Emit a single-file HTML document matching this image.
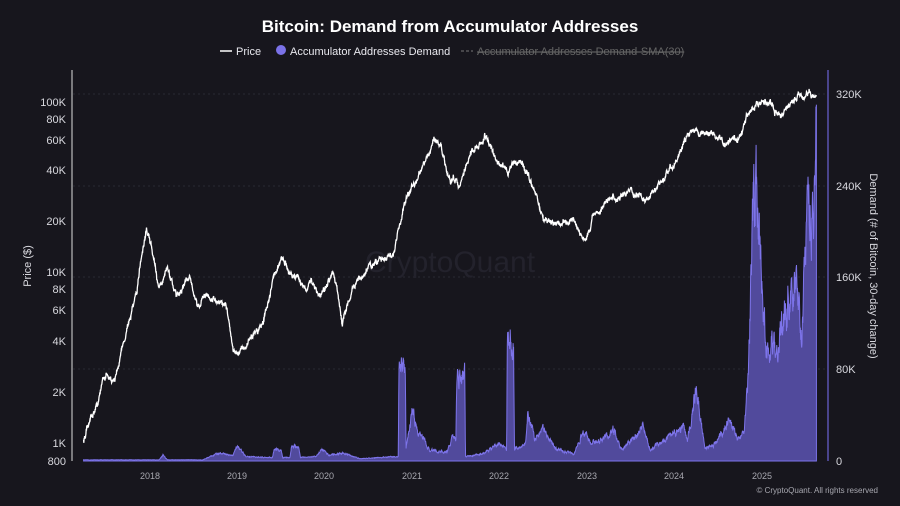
<!DOCTYPE html>
<html><head><meta charset="utf-8"><style>
html,body{margin:0;padding:0;background:#17161d;}
svg{display:block;font-family:"Liberation Sans",sans-serif;}
</style></head><body>
<svg id="c" width="900" height="506" viewBox="0 0 900 506">
<rect width="900" height="506" fill="#17161d"/>
<text x="450" y="32" fill="#ffffff" font-size="17" font-weight="bold" text-anchor="middle">Bitcoin: Demand from Accumulator Addresses</text>
<line x1="220" y1="51" x2="232" y2="51" stroke="#fff" stroke-width="1.5"/>
<text x="236" y="55" fill="#e8e8ee" font-size="11">Price</text>
<circle cx="281" cy="50" r="5" fill="#7b72e8"/>
<text x="290" y="55" fill="#e8e8ee" font-size="11">Accumulator Addresses Demand</text>
<line x1="461" y1="51" x2="473" y2="51" stroke="#777" stroke-width="1" stroke-dasharray="3,2"/>
<text x="477" y="55" fill="#666" font-size="11" text-decoration="line-through">Accumulator Addresses Demand-SMA(30)</text>
<g stroke="#2a2933" stroke-width="1" stroke-dasharray="2,3">
<line x1="73" y1="94" x2="828" y2="94"/><line x1="73" y1="186" x2="828" y2="186"/>
<line x1="73" y1="277" x2="828" y2="277"/><line x1="73" y1="369" x2="828" y2="369"/>
</g>
<text x="450" y="272" fill="#23222c" font-size="30" text-anchor="middle">CryptoQuant</text>
<g id="plot"></g>
<line x1="72" y1="70" x2="72" y2="461" stroke="#ddd" stroke-width="1"/>
<line x1="828" y1="70" x2="828" y2="461" stroke="#6b63d6" stroke-width="1.2"/>
<g fill="#d8d8de" font-size="11" text-anchor="end">
<text x="66" y="106">100K</text><text x="66" y="123">80K</text><text x="66" y="144">60K</text>
<text x="66" y="174">40K</text><text x="66" y="225">20K</text><text x="66" y="276">10K</text>
<text x="66" y="293">8K</text><text x="66" y="314">6K</text><text x="66" y="345">4K</text>
<text x="66" y="396">2K</text><text x="66" y="447">1K</text><text x="66" y="465">800</text>
</g>
<g fill="#d8d8de" font-size="11">
<text x="836" y="98">320K</text><text x="836" y="190">240K</text><text x="836" y="281">160K</text>
<text x="836" y="373">80K</text><text x="836" y="465">0</text>
</g>
<text transform="translate(31,266) rotate(-90)" fill="#d8d8de" font-size="11" text-anchor="middle">Price ($)</text>
<text transform="translate(870,266) rotate(90)" fill="#d8d8de" font-size="11" text-anchor="middle">Demand (# of Bitcoin, 30-day change)</text>
<g fill="#a8a8b0" font-size="9" text-anchor="middle">
<text x="150" y="479">2018</text><text x="237" y="479">2019</text><text x="324" y="479">2020</text>
<text x="412" y="479">2021</text><text x="499" y="479">2022</text><text x="587" y="479">2023</text>
<text x="674" y="479">2024</text><text x="762" y="479">2025</text>
</g>
<text x="878" y="493" fill="#a8a8b0" font-size="8" text-anchor="end">© CryptoQuant. All rights reserved</text>
</svg>
<script>
var X=function(t){return 150+(t-2018)*87.4;};
var YP=function(p){return 443-170*Math.log10(p/1000);};
var YD=function(k){return 461-k*1.146;};
var s=12345;function r(){s=(s*16807)%2147483647;return s/2147483647-0.5;}
function interp(k,t){for(var i=0;i<k.length-1;i++){if(t>=k[i][0]&&t<=k[i+1][0]){var f=(t-k[i][0])/(k[i+1][0]-k[i][0]);return k[i][1]+(k[i+1][1]-k[i][1])*f;}}return k[k.length-1][1];}
var P=[[2017.24,1050],[2017.4,1700],[2017.5,2600],[2017.6,2300],[2017.7,4000],[2017.85,7000],[2017.96,19000],[2018.05,11000],[2018.1,8000],[2018.2,11000],[2018.3,7000],[2018.45,9500],[2018.55,6200],[2018.65,7500],[2018.87,6300],[2018.95,3500],[2019.1,3600],[2019.3,5200],[2019.5,12000],[2019.6,10000],[2019.8,8000],[2019.85,9000],[2019.95,7200],[2020.1,10000],[2020.2,5000],[2020.4,9500],[2020.6,11500],[2020.8,13000],[2020.95,28000],[2021.1,40000],[2021.25,60000],[2021.33,55000],[2021.4,37000],[2021.55,32000],[2021.65,47000],[2021.85,64000],[2021.95,47000],[2022.1,40000],[2022.25,45000],[2022.4,30000],[2022.5,20000],[2022.7,19500],[2022.85,20000],[2022.92,16500],[2023.0,16800],[2023.1,23000],[2023.3,28000],[2023.5,30000],[2023.7,26500],[2023.85,35000],[2024.0,43000],[2024.15,62000],[2024.25,70000],[2024.45,65000],[2024.6,58000],[2024.75,63000],[2024.85,90000],[2024.95,98000],[2025.05,100000],[2025.2,82000],[2025.3,95000],[2025.4,108000],[2025.55,118000],[2025.6,115000]];
var D=[[2017.24,1],[2018.1,1],[2018.15,5],[2018.2,1],[2018.6,1],[2018.8,7],[2018.95,5],[2019.0,12],[2019.05,8],[2019.1,4],[2019.4,3],[2019.42,10],[2019.5,10],[2019.52,3],[2019.6,3],[2019.62,13],[2019.7,13],[2019.72,3],[2019.9,4],[2019.97,10],[2020.05,5],[2020.2,7],[2020.4,2],[2020.84,4],[2020.85,80],[2020.92,80],[2020.93,10],[2021.0,45],[2021.05,30],[2021.2,10],[2021.4,8],[2021.45,20],[2021.5,18],[2021.51,75],[2021.6,75],[2021.61,4],[2021.8,6],[2022.0,15],[2022.08,10],[2022.09,107],[2022.16,107],[2022.17,10],[2022.3,15],[2022.32,40],[2022.36,35],[2022.4,20],[2022.5,27],[2022.65,10],[2022.85,6],[2022.95,25],[2023.05,15],[2023.2,20],[2023.3,28],[2023.4,10],[2023.55,22],[2023.65,30],[2023.72,10],[2023.85,16],[2023.95,22],[2024.1,30],[2024.15,18],[2024.25,65],[2024.35,10],[2024.45,15],[2024.55,25],[2024.62,35],[2024.72,20],[2024.8,25],[2024.85,80],[2024.88,170],[2024.93,255],[2024.98,190],[2025.05,100],[2025.15,95],[2025.2,110],[2025.3,140],[2025.38,165],[2025.45,120],[2025.5,180],[2025.55,220],[2025.6,240],[2025.62,320],[2025.63,320]];
var pp="",dp="",nw=0,dn=0;
for(var t=2017.24;t<=2025.625;t+=0.003){nw=nw*0.9+r()*0.05;dn=dn*0.7+r()*0.2;
 var p=interp(P,t)*Math.exp(nw+r()*0.035);pp+=(pp?"L":"M")+X(t).toFixed(1)+","+YP(p).toFixed(1);
 var d=interp(D,t);d=Math.max(0,d*(1+dn));dp+="L"+X(t).toFixed(1)+","+YD(d).toFixed(1);}
var ns="http://www.w3.org/2000/svg",g=document.getElementById("plot");
var a=document.createElementNS(ns,"path");a.setAttribute("d","M"+X(2017.24)+",461"+dp+"L"+X(2025.625)+",461Z");a.setAttribute("fill","#514a9c");a.setAttribute("stroke","#7d74ea");a.setAttribute("stroke-width","1");g.appendChild(a);
var l=document.createElementNS(ns,"path");l.setAttribute("d",pp);l.setAttribute("fill","none");l.setAttribute("stroke","#fff");l.setAttribute("stroke-width","1.3");g.appendChild(l);
</script>
</body></html>
